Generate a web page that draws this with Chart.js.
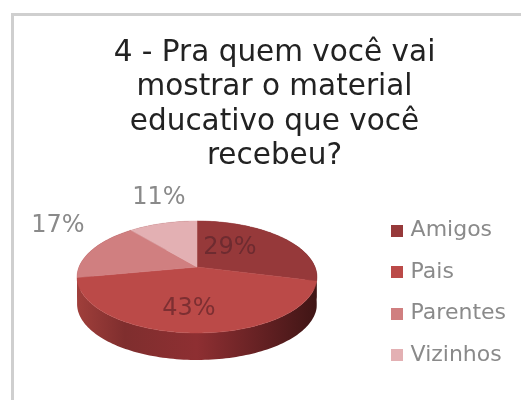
<!DOCTYPE html>
<html>
<head>
<meta charset="utf-8">
<style>
  html, body { margin: 0; padding: 0; background: #fff; }
  #wrap { position: relative; width: 521px; height: 400px; overflow: hidden; }
  #frame { position: absolute; left: 11px; top: 13px; width: 530px; height: 400px;
           border: 3px solid #cfcfcf; box-sizing: border-box; }
  canvas { position: absolute; left: 0; top: 0; }
</style>
</head>
<body>
<div id="wrap">
  <div id="frame"></div>
  <canvas id="c" width="521" height="400"></canvas>
</div>
<script src="https://cdn.jsdelivr.net/npm/chart.js@4"></script>
<script>
const titleLines = ['4 - Pra quem você vai', 'mostrar o material', 'educativo que você', 'recebeu?'];
const categories = ['Amigos', 'Pais', 'Parentes', 'Vizinhos'];
const shares = [29, 43, 17, 11];
const faceColors = ['#96393a', '#bb4a48', '#d07f80', '#e3b0b3'];
const labelColors = ['#6e2b30', '#7d2f32', '#8a8a8a', '#8a8a8a'];
// Label offsets in pixels from the pie's apex.
const labelOffsets = [[33, -19], [-8, 42], [-139, -41], [-38, -69]];

// Tilted-disc look: the unit circle goes through a perspective projection.
const TILT = { apexX: 197, apexY: 267, a: 118, b: 54.2, k: -0.1786, depth: 27 };

function project(angle) {
  const x = Math.cos(angle), y = Math.sin(angle), w = 1 + TILT.k * y;
  return [TILT.apexX + TILT.a * x / w, TILT.apexY + TILT.b * y / w];
}

function rimPoints(start, end) {
  const pts = [], n = Math.max(2, Math.ceil((end - start) * 40));
  for (let i = 0; i <= n; i++) pts.push(project(start + (end - start) * i / n));
  return pts;
}

// Square legend swatch, so the label can sit close to it.
function swatch(color) {
  const c = document.createElement('canvas');
  c.width = 12;
  c.height = 12;
  const g = c.getContext('2d');
  g.fillStyle = color;
  g.fillRect(0, 0, 12, 12);
  return c;
}

const tiltedPie = {
  id: 'tiltedPie',
  beforeDatasetsDraw(chart) {
    const ctx = chart.ctx;
    const arcs = chart.getDatasetMeta(0).data;
    ctx.save();

    // Outer wall, lit from the left and falling into shadow on the right.
    const left = TILT.apexX - TILT.a * 1.02, right = TILT.apexX + TILT.a * 1.02;
    const wall = ctx.createLinearGradient(left, 0, right, 0);
    wall.addColorStop(0, '#a03f3b');
    wall.addColorStop(0.2, '#7f2e2e');
    wall.addColorStop(0.5, '#8e2f32');
    wall.addColorStop(0.82, '#5c1e20');
    wall.addColorStop(1, '#3f1515');
    arcs.forEach(arc => {
      const { startAngle, endAngle } = arc.getProps(['startAngle', 'endAngle'], true);
      const pts = rimPoints(startAngle, endAngle);
      ctx.beginPath();
      pts.forEach(p => ctx.lineTo(p[0], p[1]));
      pts.slice().reverse().forEach(p => ctx.lineTo(p[0], p[1] + TILT.depth));
      ctx.closePath();
      ctx.fillStyle = wall;
      ctx.fill();
    });

    // Top face of each slice.
    arcs.forEach((arc, i) => {
      const { startAngle, endAngle } = arc.getProps(['startAngle', 'endAngle'], true);
      ctx.beginPath();
      ctx.moveTo(TILT.apexX, TILT.apexY);
      rimPoints(startAngle, endAngle).forEach(p => ctx.lineTo(p[0], p[1]));
      ctx.closePath();
      ctx.fillStyle = faceColors[i];
      ctx.fill();
      ctx.strokeStyle = faceColors[i];
      ctx.lineWidth = 0.5;
      ctx.stroke();
    });

    // Percentage labels.
    ctx.font = '24px "DejaVu Sans"';
    ctx.textAlign = 'center';
    ctx.textBaseline = 'middle';
    shares.forEach((v, i) => {
      ctx.fillStyle = labelColors[i];
      ctx.fillText(v + '%', TILT.apexX + labelOffsets[i][0], TILT.apexY + labelOffsets[i][1]);
    });
    ctx.restore();
    return false;
  }
};

new Chart(document.getElementById('c'), {
  type: 'pie',
  data: {
    labels: categories,
    datasets: [{ data: shares, backgroundColor: faceColors, borderWidth: 0 }]
  },
  plugins: [tiltedPie],
  options: {
    responsive: false,
    animation: false,
    layout: { padding: { left: 33, right: 5, top: 36, bottom: 14.5 } },
    plugins: {
      tooltip: { enabled: false },
      title: {
        display: true,
        text: titleLines,
        color: '#222222',
        font: { family: '"DejaVu Sans"', size: 29.5, weight: 'normal', lineHeight: 1.17 },
        padding: { top: 0, bottom: 0 }
      },
      legend: {
        position: 'right',
        align: 'end',
        labels: {
          usePointStyle: true,
          pointStyleWidth: 6,
          boxHeight: 12,
          padding: 19.5,
          color: '#8a8a8a',
          font: { family: '"DejaVu Sans"', size: 22 },
          generateLabels(chart) {
            const items = Chart.overrides.pie.plugins.legend.labels.generateLabels(chart);
            return items.map(item => Object.assign(item, { pointStyle: swatch(item.fillStyle) }));
          }
        }
      }
    }
  }
});
</script>
</body>
</html>
